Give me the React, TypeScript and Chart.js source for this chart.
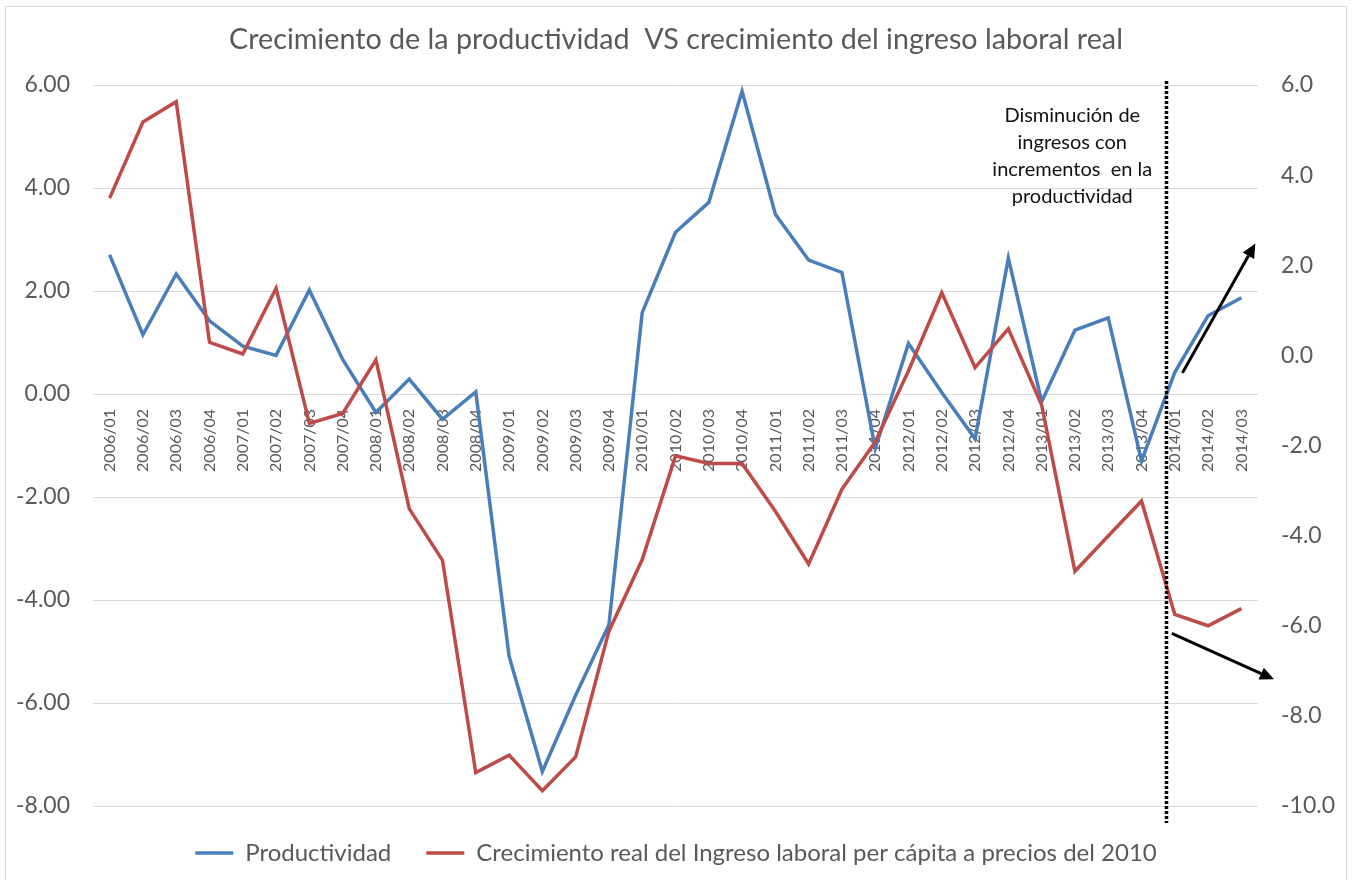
import React, { useEffect, useRef } from "react";
import { Chart, registerables } from "chart.js";

Chart.register(...registerables);

const categories = [
  "2006/01", "2006/02", "2006/03", "2006/04",
  "2007/01", "2007/02", "2007/03", "2007/04",
  "2008/01", "2008/02", "2008/03", "2008/04",
  "2009/01", "2009/02", "2009/03", "2009/04",
  "2010/01", "2010/02", "2010/03", "2010/04",
  "2011/01", "2011/02", "2011/03", "2011/04",
  "2012/01", "2012/02", "2012/03", "2012/04",
  "2013/01", "2013/02", "2013/03", "2013/04",
  "2014/01", "2014/02", "2014/03",
];

// Left axis
const productividad = [
  2.70, 1.15, 2.33, 1.42,
  0.93, 0.75, 2.02, 0.67,
  -0.36, 0.29, -0.49, 0.04,
  -5.09, -7.33, -5.85, -4.48,
  1.58, 3.14, 3.72, 5.88,
  3.49, 2.60, 2.36, -1.06,
  0.98, 0.03, -0.87, 2.64,
  -0.15, 1.24, 1.48, -1.30,
  0.42, 1.52, 1.87,
];

// Right axis
const ingresoLaboral = [
  3.49, 5.18, 5.63, 0.29,
  0.03, 1.49, -1.51, -1.29,
  -0.10, -3.40, -4.55, -9.26,
  -8.87, -9.66, -8.91, -6.12,
  -4.53, -2.23, -2.40, -2.40,
  -3.46, -4.63, -2.97, -1.92,
  -0.34, 1.39, -0.27, 0.59,
  -1.10, -4.79, -4.01, -3.23,
  -5.75, -6.00, -5.62,
];

const leftAxisMin = -8;
const leftAxisMax = 6;
const rightAxisMin = -10;
const rightAxisMax = 6;
const axisStep = 2;

const titleText = "Crecimiento de la productividad  VS crecimiento del ingreso laboral real";
const seriesNames = [
  "Productividad",
  "Crecimiento real del Ingreso laboral per cápita a precios del 2010",
];
const noteLines = ["Disminución de", "ingresos con", "incrementos  en la", "productividad"];

// Annotation anchors in data units (category index, left-axis value)
const dividerIndex = 31.73;
const noteAnchor = { index: 28.92, value: 5.4 };
const upArrow = { from: [32.23, 0.41], to: [34.42, 2.92] };
const downArrow = { from: [31.91, -4.65], to: [34.98, -5.54] };

const BLUE = "#4A7EBB";
const RED = "#BE4B48";
const GRAY_TEXT = "#595959";
const GRID = "#d9d9d9";
const FONT = "Lato, 'Open Sans', 'Noto Sans', sans-serif";

function drawArrow(ctx: CanvasRenderingContext2D, x1: number, y1: number, x2: number, y2: number) {
  const ang = Math.atan2(y2 - y1, x2 - x1);
  const headLen = 14;
  const headW = 6.5;
  const bx = x2 - headLen * Math.cos(ang);
  const by = y2 - headLen * Math.sin(ang);
  ctx.beginPath();
  ctx.moveTo(x1, y1);
  ctx.lineTo(bx, by);
  ctx.lineWidth = 3;
  ctx.strokeStyle = "#000";
  ctx.stroke();
  ctx.beginPath();
  ctx.moveTo(x2, y2);
  ctx.lineTo(bx + headW * Math.sin(ang), by - headW * Math.cos(ang));
  ctx.lineTo(bx - headW * Math.sin(ang), by + headW * Math.cos(ang));
  ctx.closePath();
  ctx.fillStyle = "#000";
  ctx.fill();
}

const decorPlugin = {
  id: "decor",
  beforeDraw(chart: any) {
    const { ctx, width, height } = chart;
    ctx.save();
    ctx.fillStyle = "#ffffff";
    ctx.fillRect(0, 0, width, height);
    ctx.strokeStyle = GRID;
    ctx.lineWidth = 1;
    ctx.strokeRect(5.5, 6.5, width - 11, height + 20);
    ctx.restore();
  },
  afterDraw(chart: any) {
    const { ctx, chartArea } = chart;
    const xs = chart.scales.x;
    const ys = chart.scales.y;
    ctx.save();

    // dotted divider
    const dx = Math.round(xs.getPixelForValue(dividerIndex)) + 0.5;
    ctx.beginPath();
    ctx.setLineDash([3, 2]);
    ctx.lineWidth = 3.5;
    ctx.strokeStyle = "#000";
    ctx.moveTo(dx, chartArea.top - 4);
    ctx.lineTo(dx, chartArea.bottom + 17);
    ctx.stroke();
    ctx.setLineDash([]);

    // note text
    ctx.fillStyle = "#111";
    ctx.font = `20px ${FONT}`;
    ctx.textAlign = "center";
    ctx.textBaseline = "middle";
    const nx = xs.getPixelForValue(noteAnchor.index);
    const ny = ys.getPixelForValue(noteAnchor.value);
    noteLines.forEach((line, i) => ctx.fillText(line, nx, ny + i * 27));

    // arrows
    drawArrow(
      ctx,
      xs.getPixelForValue(upArrow.from[0]), ys.getPixelForValue(upArrow.from[1]),
      xs.getPixelForValue(upArrow.to[0]), ys.getPixelForValue(upArrow.to[1])
    );
    drawArrow(
      ctx,
      xs.getPixelForValue(downArrow.from[0]), ys.getPixelForValue(downArrow.from[1]),
      xs.getPixelForValue(downArrow.to[0]), ys.getPixelForValue(downArrow.to[1])
    );
    ctx.restore();
  },
};

export default function App() {
  const ref = useRef<HTMLCanvasElement | null>(null);

  useEffect(() => {
    if (!ref.current) return;
    const chart = new Chart(ref.current, {
      type: "line",
      data: {
        labels: categories,
        datasets: [
          {
            label: seriesNames[0],
            data: productividad,
            borderColor: BLUE,
            backgroundColor: BLUE,
            borderWidth: 3.5,
            pointRadius: 0,
            tension: 0,
            fill: false,
            yAxisID: "y",
            order: 1,
          },
          {
            label: seriesNames[1],
            data: ingresoLaboral,
            borderColor: RED,
            backgroundColor: RED,
            borderWidth: 3.5,
            pointRadius: 0,
            tension: 0,
            fill: false,
            yAxisID: "y1",
            order: 0,
          },
        ],
      },
      options: {
        animation: false,
        responsive: false,
        layout: { padding: { top: 0, left: 0, right: 0, bottom: 5 } },
        font: { family: FONT },
        plugins: {
          tooltip: { enabled: false },
          title: {
            display: true,
            text: titleText,
            color: GRAY_TEXT,
            font: { family: FONT, size: 28.7, weight: "normal" },
            padding: { top: 22.8, bottom: 27.76 },
          },
          legend: {
            display: true,
            position: "bottom",
            labels: {
              color: GRAY_TEXT,
              font: { family: FONT, size: 24 },
              usePointStyle: true,
              pointStyle: "line",
              pointStyleWidth: 38,
              padding: 35,
              sort: (a: any, b: any) => a.datasetIndex - b.datasetIndex,
            },
          },
        },
        scales: {
          x: {
            type: "category",
            offset: true,
            position: { y: 0 } as any,
            grid: { display: false, drawTicks: false },
            border: { display: false },
            ticks: {
              autoSkip: false,
              minRotation: 90,
              maxRotation: 90,
              padding: 15,
              color: GRAY_TEXT,
              font: { family: FONT, size: 16 },
            },
          },
          y: {
            type: "linear",
            position: "left",
            min: leftAxisMin,
            max: leftAxisMax,
            afterFit: (s: any) => { s.width = 93; },
            grid: { color: GRID, lineWidth: 1, drawTicks: false },
            border: { display: false },
            ticks: {
              stepSize: axisStep,
              padding: 23,
              color: GRAY_TEXT,
              font: { family: FONT, size: 23 },
              callback: (v: any) => Number(v).toFixed(2),
            },
          },
          y1: {
            type: "linear",
            position: "right",
            min: rightAxisMin,
            max: rightAxisMax,
            afterFit: (s: any) => { s.width = 94; },
            grid: { display: false, drawTicks: false },
            border: { display: false },
            ticks: {
              stepSize: axisStep,
              padding: 23,
              color: GRAY_TEXT,
              font: { family: FONT, size: 23 },
              callback: (v: any) => Number(v).toFixed(1),
            },
          },
        },
      } as any,
      plugins: [decorPlugin],
    });
    return () => chart.destroy();
  }, []);

  return (
    <canvas
      ref={ref}
      width={1352}
      height={880}
      style={{ position: "fixed", left: 0, top: 0, display: "block", width: 1352, height: 880 }}
    />
  );
}
